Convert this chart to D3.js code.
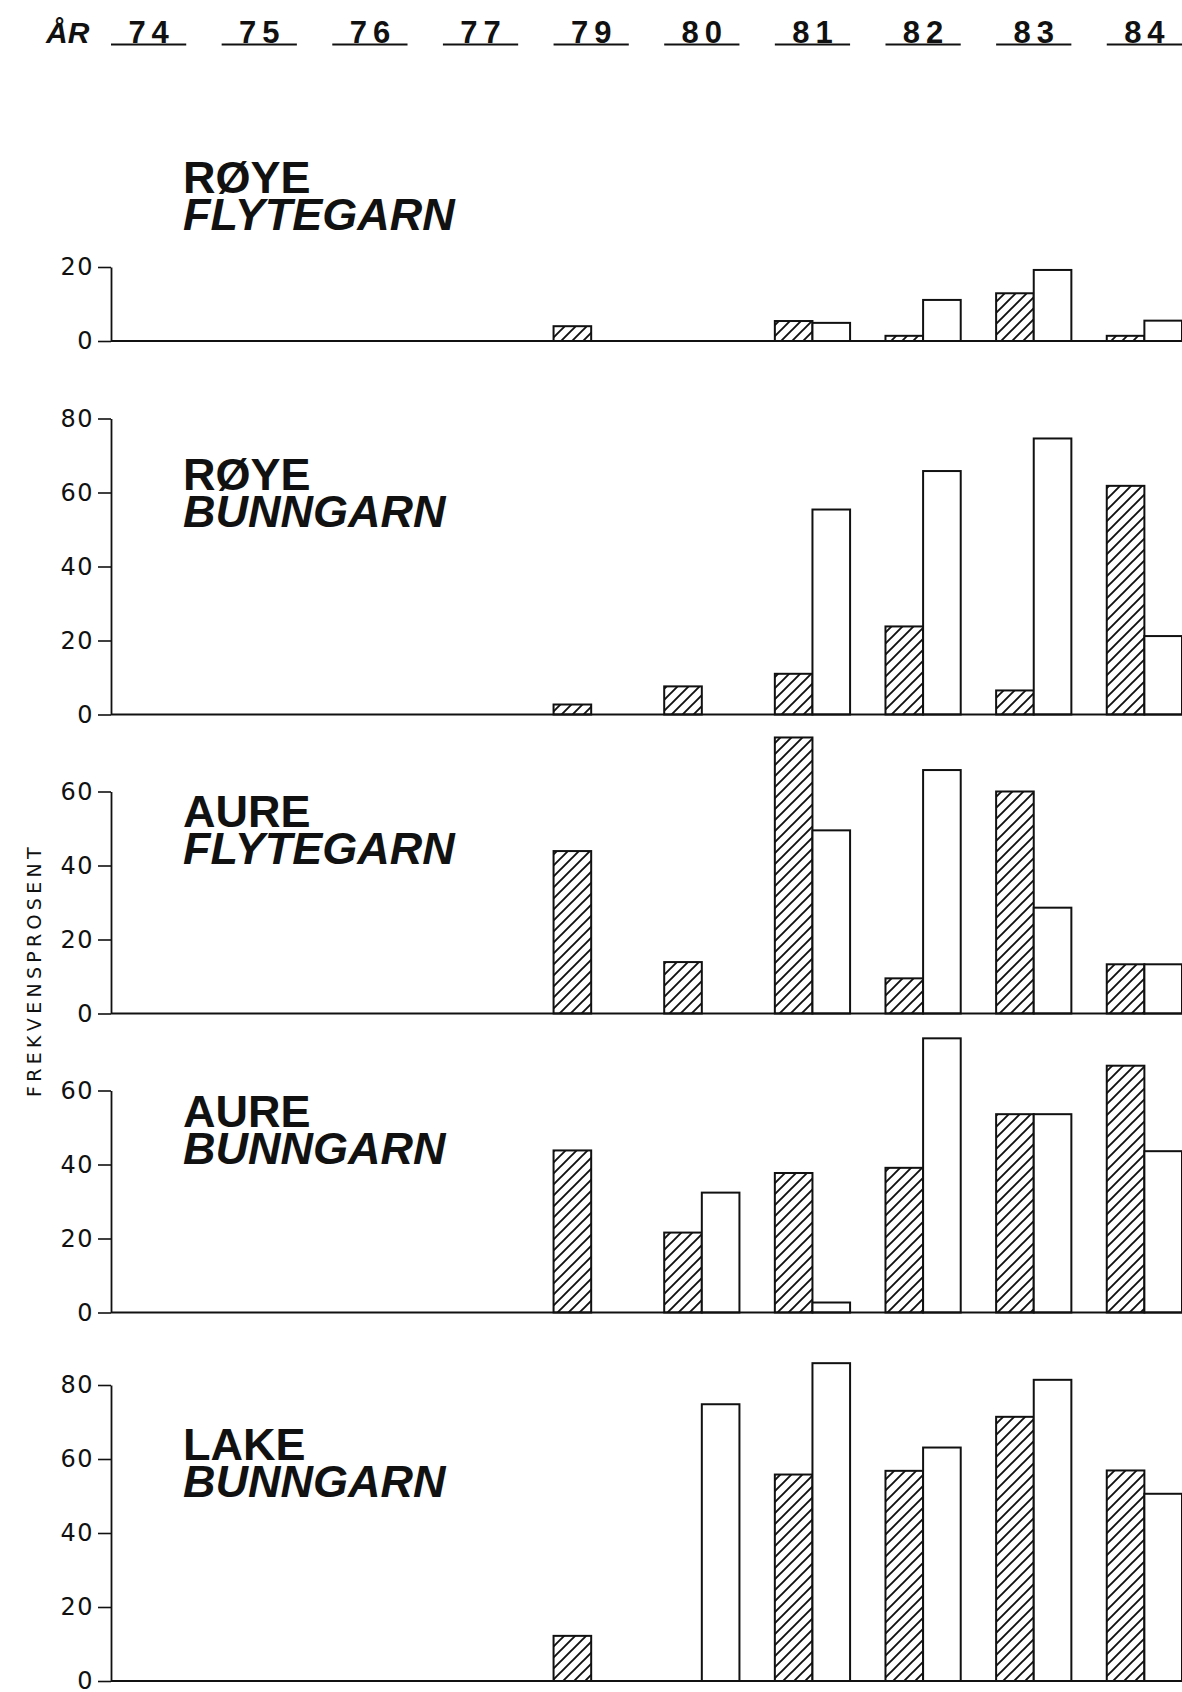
<!DOCTYPE html>
<html><head><meta charset="utf-8">
<script src="https://cdn.jsdelivr.net/npm/d3@7"></script>
<style>body{margin:0;background:#fff}</style>
</head><body>
<svg id="chart" width="1182" height="1692"></svg>
<script>
// ---------- data ----------
const years = ["74","75","76","77","79","80","81","82","83","84"];
const headerLabel = "ÅR";
const yAxisLabel = "FREKVENSPROSENT";
const species = ["RØYE","RØYE","AURE","AURE","LAKE"];
const gear = ["FLYTEGARN","BUNNGARN","FLYTEGARN","BUNNGARN","BUNNGARN"];
const axisMax = [20, 80, 60, 60, 80];
const tickStep = 20;
// hatched series = left bar of each year, open series = right bar
const royeFlytHatched = [0,0,0,0, 4.0, 0,   5.4, 1.4, 12.9, 1.4];
const royeFlytOpen    = [0,0,0,0, 0,   0,   4.9, 11.1, 19.2, 5.5];
const royeBunnHatched = [0,0,0,0, 2.7, 7.6, 11.0, 23.8, 6.5, 61.8];
const royeBunnOpen    = [0,0,0,0, 0,   0,   55.4, 65.8, 74.6, 21.2];
const aureFlytHatched = [0,0,0,0, 43.9, 13.9, 74.6, 9.5, 60.0, 13.3];
const aureFlytOpen    = [0,0,0,0, 0,    0,    49.5, 65.8, 28.6, 13.3];
const aureBunnHatched = [0,0,0,0, 43.8, 21.6, 37.7, 39.1, 53.6, 66.7];
const aureBunnOpen    = [0,0,0,0, 0,    32.4, 2.7,  74.1, 53.6, 43.6];
const lakeBunnHatched = [0,0,0,0, 12.2, 0,    55.8, 56.8, 71.4, 56.9];
const lakeBunnOpen    = [0,0,0,0, 0,    74.8, 85.9, 63.1, 81.4, 50.6];

const hatchedSeries = [royeFlytHatched, royeBunnHatched, aureFlytHatched, aureBunnHatched, lakeBunnHatched];
const openSeries    = [royeFlytOpen, royeBunnOpen, aureFlytOpen, aureBunnOpen, lakeBunnOpen];

// ---------- layout ----------
const W = 1182, H = 1692;
const axisX = 111;
const baselines = [341, 714.5, 1013.5, 1312.5, 1681];
const pxPerUnit = 3.7;
const titleBaselines = [193, 490, 827, 1127, 1460];
const titleLineGap = 37;
const titleX = 183;

const svg = d3.select("#chart");
svg.append("rect").attr("width", W).attr("height", H).attr("fill", "#fff");

const defs = svg.append("defs");
const P = 11;
const pat = defs.append("pattern").attr("id", "hatch")
  .attr("patternUnits", "userSpaceOnUse").attr("width", P).attr("height", P);
pat.append("rect").attr("width", P).attr("height", P).attr("fill", "#fff");
pat.append("path").attr("d", `M-1,1 l2,-2 M0,${P} l${P},-${P} M${P-1},${P+1} l2,-2`)
  .attr("stroke", "#111").attr("stroke-width", 1.9);

const x = d3.scaleBand().domain(years).range([axisX, W]).paddingInner(0.32).paddingOuter(0).align(0);
const inner = d3.scaleBand().domain(["h", "o"]).range([0, x.bandwidth()]).padding(0);

// header
const head = svg.append("g");
head.append("text").attr("x", 46).attr("y", 43)
  .attr("font-family", "Liberation Sans, Arial, sans-serif").attr("font-weight", "bold")
  .attr("font-style", "italic").attr("font-size", 30).attr("fill", "#111").text(headerLabel);
years.forEach(yr => {
  head.append("text").attr("x", x(yr) + x.bandwidth() / 2 + 3).attr("y", 43)
    .attr("text-anchor", "middle")
    .attr("font-family", "Liberation Sans, Arial, sans-serif").attr("font-weight", "bold")
    .attr("font-size", 31).attr("letter-spacing", 6).attr("fill", "#111").text(yr);
  head.append("line").attr("x1", x(yr)).attr("x2", x(yr) + x.bandwidth())
    .attr("y1", 44.5).attr("y2", 44.5).attr("stroke", "#111").attr("stroke-width", 2.2);
});

// y label
svg.append("text").attr("transform", "translate(41,970) rotate(-90)")
  .attr("text-anchor", "middle").attr("font-family", "DejaVu Sans, sans-serif")
  .attr("font-size", 19).attr("letter-spacing", 4.3).attr("fill", "#111").text(yAxisLabel);

// panels
species.forEach((sp, i) => {
  const base = baselines[i];
  const y = d3.scaleLinear().domain([0, axisMax[i]]).range([base, base - axisMax[i] * pxPerUnit]);
  const g = svg.append("g");

  // bars
  const rows = years.map((yr, j) => ({ yr, h: hatchedSeries[i][j], o: openSeries[i][j] }));
  rows.forEach(r => {
    [["h", r.h], ["o", r.o]].forEach(([k, v]) => {
      if (!v) return;
      g.append("rect")
        .attr("x", x(r.yr) + inner(k)).attr("width", inner.bandwidth())
        .attr("y", y(v)).attr("height", y(0) - y(v))
        .attr("fill", k === "h" ? "url(#hatch)" : "#fff")
        .attr("stroke", "#111").attr("stroke-width", 2);
    });
  });

  // baseline
  g.append("line").attr("x1", axisX).attr("x2", W).attr("y1", y(0)).attr("y2", y(0))
    .attr("stroke", "#111").attr("stroke-width", 2);

  // axis
  const ax = g.append("g").attr("transform", `translate(${axisX},0)`)
    .call(d3.axisLeft(y).tickValues(d3.range(0, axisMax[i] + 1, tickStep))
      .tickSize(13).tickSizeOuter(0).tickPadding(4).tickFormat(d3.format("d")));
  ax.select(".domain").attr("stroke", "#111").attr("stroke-width", 1.8);
  ax.selectAll(".tick line").attr("stroke", "#111").attr("stroke-width", 1.6);
  ax.selectAll(".tick text").attr("font-family", "DejaVu Sans, sans-serif")
    .attr("font-size", 24).attr("fill", "#111").attr("letter-spacing", 1.5);

  // titles (one text, two lines)
  const t = g.append("text").attr("x", titleX).attr("y", titleBaselines[i])
    .attr("font-family", "Liberation Sans, Arial, sans-serif").attr("font-weight", "bold")
    .attr("font-size", 45).attr("fill", "#111");
  t.append("tspan").attr("x", titleX).text(sp);
  t.append("tspan").attr("x", titleX).attr("dy", titleLineGap).attr("font-style", "italic").text(gear[i]);
});
</script>
</body></html>
